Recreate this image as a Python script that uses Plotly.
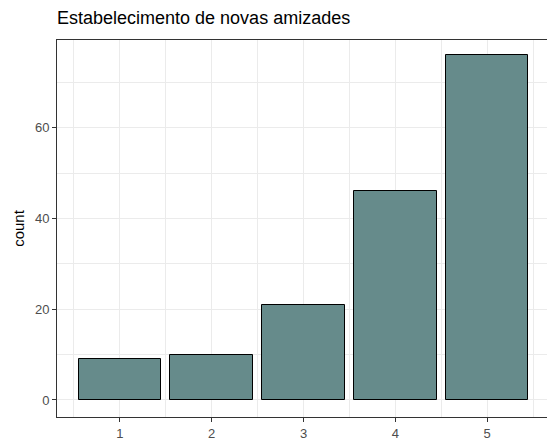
import plotly.graph_objects as go

# answers on the 1-5 scale and how many people gave each one
categories = [1, 2, 3, 4, 5]
counts = [9, 10, 21, 46, 76]

title_text = "Estabelecimento de novas amizades"
y_label = "count"

grid = "#EBEBEB"
border = "#333333"
tick_font = dict(family="Liberation Sans, Arial, sans-serif", size=13, color="#4D4D4D")

W, H = 547, 441

fig = go.Figure()
fig.add_trace(go.Bar(
    x=categories,
    y=counts,
    width=0.9,
    marker=dict(color="#668B8B", line=dict(color="black", width=1)),
))

fig.update_layout(
    width=W,
    height=H,
    margin=dict(l=57, r=0, t=40, b=22),
    plot_bgcolor="white",
    paper_bgcolor="white",
    showlegend=False,
    title=dict(
        text=title_text,
        x=57 / W, xref="container", xanchor="left",
        y=1 - 18 / H, yref="container", yanchor="middle",
        font=dict(family="Liberation Sans, Arial, sans-serif", size=18, color="black"),
    ),
    bargap=0,
)

# the panel runs past the right edge of the picture, so no right border
fig.update_xaxes(
    range=[0.315, 5.652],
    tickmode="array",
    tickvals=categories,
    ticktext=[str(c) for c in categories],
    ticks="outside", ticklen=4, tickcolor=border,
    tickfont=tick_font,
    showgrid=True, gridcolor=grid, gridwidth=1,
    minor=dict(tickvals=[0.5, 1.5, 2.5, 3.5, 4.5, 5.5], showgrid=True,
               gridcolor=grid, gridwidth=0.6, ticks=""),
    showline=True, linecolor=border, linewidth=1, mirror=True,
    zeroline=False,
)

fig.update_yaxes(
    range=[-3.75, 79.3],
    tickmode="array",
    tickvals=[0, 20, 40, 60],
    ticks="outside", ticklen=4, tickcolor=border,
    tickfont=tick_font,
    showgrid=True, gridcolor=grid, gridwidth=1,
    minor=dict(tickvals=[10, 30, 50, 70], showgrid=True,
               gridcolor=grid, gridwidth=0.6, ticks=""),
    showline=True, linecolor=border, linewidth=1, mirror=False,
    zeroline=False,
    title=dict(text=y_label, standoff=6,
               font=dict(family="Liberation Sans, Arial, sans-serif", size=15, color="black")),
)

# drop the page's default body margin so the figure sits in the corner of the window
fig.write_html("out.html",
               config={"displayModeBar": False},
               post_script="document.body.style.margin='0';document.body.style.overflow='hidden';")
